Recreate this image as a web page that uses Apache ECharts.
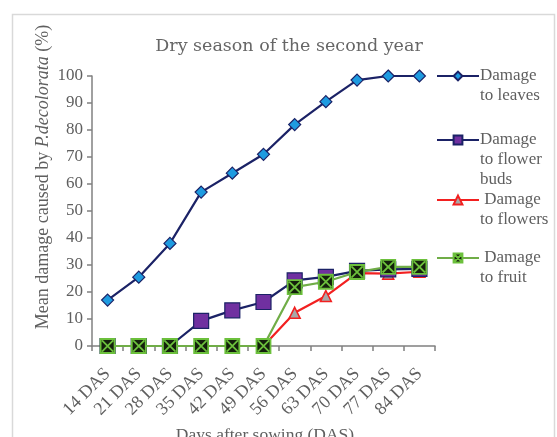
<!DOCTYPE html>
<html><head><meta charset="utf-8">
<script src="https://cdn.jsdelivr.net/npm/echarts@6/dist/echarts.min.js"></script>
<style>html,body{margin:0;padding:0;background:#fff}#c{width:557px;height:437px}</style>
</head><body><div id="c"></div>
<script>
const categories = ['14 DAS','21 DAS','28 DAS','35 DAS','42 DAS','49 DAS','56 DAS','63 DAS','70 DAS','77 DAS','84 DAS'];
const leaves = [17, 25.5, 38, 57, 64, 71, 82, 90.5, 98.5, 100, 100];
const flowerBuds = [0, 0, 0, 9.3, 13.2, 16.3, 24.3, 25.6, 27.8, 28.4, 28.6];
const flowers = [0, 0, 0, 0, 0, 0, 12.3, 18.5, 27, 26.8, 27.5];
const fruit = [0, 0, 0, 0, 0, 0, 21.8, 23.8, 27.4, 29.3, 29.3];
const yTicks = [0, 10, 20, 30, 40, 50, 60, 70, 80, 90, 100];
const names = ['Damage to leaves', 'Damage to flower buds', 'Damage to flowers', 'Damage to fruit'];
const legendText = {
  'Damage to leaves': '\nDamage\nto leaves',
  'Damage to flower buds': '\n\nDamage\nto flower\nbuds',
  'Damage to flowers': '\n\u00a0Damage\nto flowers',
  'Damage to fruit': '\n\u00a0Damage\nto fruit'
};
const serif = '"Liberation Serif", "DejaVu Serif", serif';
const gray = '#5f5f5f';
const chart = echarts.init(document.getElementById('c'));
const fruitSym = 'path://M0,0L10,0L10,10L0,10Z M1,1L9,9 M9,1L1,9';
function legendAt(name, top) {
  return {
    data: [name], orient: 'vertical', left: 436, top: top,
    itemWidth: 42, itemHeight: 11, itemGap: 0, padding: 0,
    formatter: n => legendText[n],
    textStyle: { fontFamily: serif, fontSize: 17, color: gray, lineHeight: 20, padding: [0,0,0,-4] }
  };
}
chart.setOption({
  animation: false,
  title: {
    text: 'Dry season of the second year', left: 284, top: 32, textAlign: 'center',
    textStyle: { fontFamily: '"DejaVu Serif", serif', fontSize: 17.5, fontWeight: 'normal', color: '#666666' }
  },
  graphic: [
    { type: 'rect', shape: { x: 12.5, y: 14.5, width: 542, height: 440 }, style: { fill: 'none', stroke: '#d9d9d9', lineWidth: 1.5 }, silent: true },
    { type: 'text', x: 43, y: 177, rotation: Math.PI / 2,
      style: { text: '{n|Mean damage caused by }{i|P.decolorata}{n| (%)}', align: 'center', verticalAlign: 'middle',
        rich: { n: { fontFamily: serif, fontSize: 18, fill: gray }, i: { fontFamily: serif, fontSize: 18, fontStyle: 'italic', fill: gray } } } },
    { type: 'text', x: 265, y: 435, style: { text: 'Days after sowing (DAS)', align: 'center', verticalAlign: 'middle', fontFamily: serif, fontSize: 17.5, fill: gray } }
  ],
  legend: [ legendAt(names[0], 46), legendAt(names[1], 90), legendAt(names[2], 170), legendAt(names[3], 228) ],
  grid: { left: 92, right: 122, top: 76, bottom: 91, containLabel: false },
  xAxis: {
    type: 'category', data: categories, boundaryGap: true,
    axisLine: { lineStyle: { color: '#808080', width: 1.5 } },
    axisTick: { show: true, interval: 0, length: 5, lineStyle: { color: '#808080', width: 1.5 } },
    axisLabel: { interval: 0, rotate: 45, margin: 25, fontFamily: serif, fontSize: 18, color: gray }
  },
  yAxis: {
    type: 'value', min: 0, max: 100, interval: 10,
    splitLine: { show: false },
    axisLine: { show: true, lineStyle: { color: '#808080', width: 1.5 } },
    axisTick: { show: true, length: 5, lineStyle: { color: '#808080', width: 1.5 } },
    axisLabel: { margin: 9, fontFamily: serif, fontSize: 17, color: gray,
      formatter: v => yTicks.includes(v) ? String(v) : '' }
  },
  series: [
    { name: names[0], type: 'line', data: leaves, symbol: 'diamond', symbolSize: 12,
      lineStyle: { color: '#1b2266', width: 2.2 }, itemStyle: { color: '#1e9be0', borderColor: '#1b2266', borderWidth: 1.2 }, z: 5 },
    { name: names[1], type: 'line', data: flowerBuds, symbol: 'rect', symbolSize: 15,
      lineStyle: { color: '#1b2266', width: 2.2 }, itemStyle: { color: '#7030a0', borderColor: '#1b2266', borderWidth: 1.2 }, z: 4 },
    { name: names[2], type: 'line', data: flowers, symbol: 'triangle', symbolSize: 11,
      lineStyle: { color: '#f22020', width: 2.2 }, itemStyle: { color: '#a8a8a8', borderColor: '#f22020', borderWidth: 1.5 }, z: 3 },
    { name: names[3], type: 'line', data: fruit, symbol: fruitSym, symbolSize: 14,
      lineStyle: { color: '#70ad47', width: 2.2 }, itemStyle: { color: '#14200c', borderColor: '#6cc03c', borderWidth: 1.8 }, z: 6 }
  ]
});
</script></body></html>
